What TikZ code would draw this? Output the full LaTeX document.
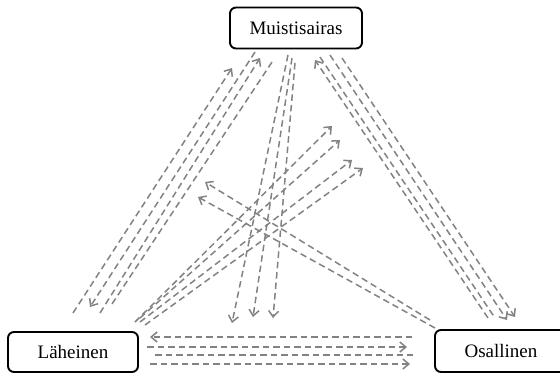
\documentclass[tikz,border=0pt]{standalone}
\usepackage{fontspec}
\setmainfont{Liberation Serif}
\usetikzlibrary{arrows.meta}
\definecolor{flowgray}{RGB}{130,130,130}
\tikzset{
  party/.style={draw, line width=1.9pt, rounded corners=6pt, minimum width=132pt,
    minimum height=41pt, inner sep=0pt, font=\fontsize{19}{22}\selectfont},
  flow/.style={flowgray, line width=1.5pt, dash pattern=on 6.5pt off 4pt}
}
\begin{document}
\begin{tikzpicture}[x=1pt,y=-1pt,>={Straight Barb[length=6pt,width=10pt]}]
\useasboundingbox (0,0) rectangle (560,373);

\node[party] (muisti) at (296,28) {Muistisairas};
\node[party, minimum width=130pt, minimum height=40pt] (laheinen) at (73,352) {L\"aheinen};
\node[party, minimum height=42pt] (osallinen) at (501,351) {Osallinen};

% Muistisairas - Laheinen
\foreach \n/\xa/\ya/\xb/\yb/\tip in {ml1/73/313/232/68/->, ml2/255/52/90/307/->,
  ml3/100/313/260/58/->, ml4/272/62/110/307/-}
{
  \coordinate (\n a) at (\xa,\ya);
  \coordinate (\n b) at (\xb,\yb);
  \draw[flow,\tip] (\n a)--(\n b);
}

% Muistisairas - Osallinen
\foreach \n/\xa/\ya/\xb/\yb/\tip in {mo1/488/318/315/60/->, mo2/320/57/495/318/-,
  mo3/330/55/507/320/->, mo4/342/58/515/317/->}
{
  \coordinate (\n a) at (\xa,\ya);
  \coordinate (\n b) at (\xb,\yb);
  \draw[flow,\tip] (\n a)--(\n b);
}

% from Muistisairas downwards
\foreach \n/\xa/\ya/\xb/\yb in {md1/288/55/232/323, md2/292/58/253/317, md3/295/63/273/318}
{
  \coordinate (\n a) at (\xa,\ya);
  \coordinate (\n b) at (\xb,\yb);
  \draw[flow,->] (\n a)--(\n b);
}

% from Laheinen upwards
\foreach \n/\xa/\ya/\xb/\yb in {lu1/135/322/332/126, lu2/140/318/340/140,
  lu3/140/322/352/160, lu4/145/325/363/168}
{
  \coordinate (\n a) at (\xa,\ya);
  \coordinate (\n b) at (\xb,\yb);
  \draw[flow,->] (\n a)--(\n b);
}

% from Osallinen upwards
\foreach \n/\xa/\ya/\xb/\yb in {ou1/430/320/205/182, ou2/435/328/198/197}
{
  \coordinate (\n a) at (\xa,\ya);
  \coordinate (\n b) at (\xb,\yb);
  \draw[flow,->] (\n a)--(\n b);
}

% Laheinen - Osallinen
\foreach \n/\xa/\xb/\y/\tip in {lo1/412/150/337/->, lo2/147/407/347/->,
  lo3/155/413/355/-, lo4/150/410/364/->}
{
  \coordinate (\n a) at (\xa,\y);
  \coordinate (\n b) at (\xb,\y);
  \draw[flow,\tip] (\n a)--(\n b);
}
\end{tikzpicture}
\end{document}
